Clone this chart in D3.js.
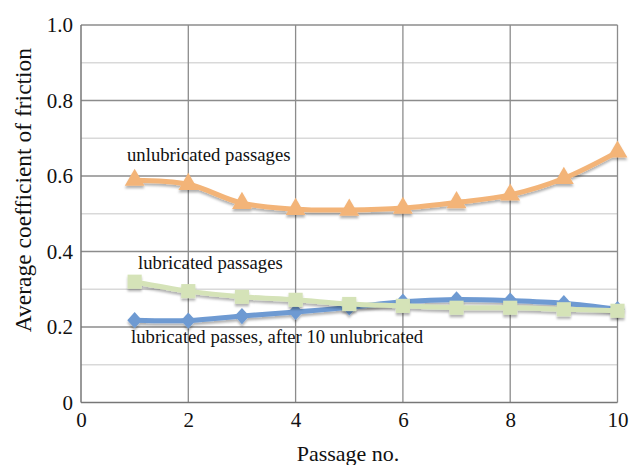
<!DOCTYPE html>
<html><head><meta charset="utf-8">
<script src="https://cdnjs.cloudflare.com/ajax/libs/d3/7.8.5/d3.min.js"></script>
<style>body{margin:0;background:#fff}svg{display:block}
svg text{font-family:"Liberation Serif","Times New Roman",Times,"DejaVu Serif",serif;}</style>
</head><body>
<svg id="c" width="630" height="465"></svg>
<script>
const passages = [1,2,3,4,5,6,7,8,9,10];
const unlubricated = [0.589,0.578,0.528,0.512,0.510,0.515,0.530,0.550,0.594,0.664];
const lubricated = [0.320,0.295,0.280,0.272,0.261,0.256,0.251,0.251,0.247,0.243];
const lubricatedAfter = [0.218,0.217,0.229,0.240,0.252,0.267,0.273,0.270,0.263,0.247];
const xTicks = [0,2,4,6,8,10];
const yTicks = [0,0.2,0.4,0.6,0.8,1.0];
const yMinor = [0.1,0.3,0.5,0.7,0.9];
const yTickLabels = ["0","0.2","0.4","0.6","0.8","1.0"];

const svg = d3.select("#c");
const m = {l:81, r:617.5, t:25, b:402.5};
const x = d3.scaleLinear().domain([0,10]).range([m.l, m.r]);
const y = d3.scaleLinear().domain([0,1]).range([m.b, m.t]);

const defs = svg.append("defs");
const f = defs.append("filter").attr("id","sh").attr("x","-30%").attr("y","-30%").attr("width","160%").attr("height","180%");
f.append("feDropShadow").attr("dx",0).attr("dy",2.5).attr("stdDeviation",1.3).attr("flood-color","#000").attr("flood-opacity",0.3);

// minor gridlines
svg.append("g").selectAll("line").data(yMinor).join("line")
  .attr("x1",m.l).attr("x2",m.r).attr("y1",d=>y(d)).attr("y2",d=>y(d))
  .attr("stroke","#d9d9d9").attr("stroke-width",1.3);
// major horizontal
svg.append("g").selectAll("line").data(yTicks.slice(1)).join("line")
  .attr("x1",m.l).attr("x2",m.r).attr("y1",d=>y(d)).attr("y2",d=>y(d))
  .attr("stroke","#8c8c8c").attr("stroke-width",1.3);
// vertical
svg.append("g").selectAll("line").data(xTicks.slice(1)).join("line")
  .attr("x1",d=>x(d)).attr("x2",d=>x(d)).attr("y1",m.t).attr("y2",m.b)
  .attr("stroke","#8c8c8c").attr("stroke-width",1.3);
// axes lines
svg.append("line").attr("x1",m.l).attr("x2",m.l).attr("y1",m.t).attr("y2",m.b).attr("stroke","#777").attr("stroke-width",1.5);
svg.append("line").attr("x1",m.l).attr("x2",m.r).attr("y1",m.b).attr("y2",m.b).attr("stroke","#777").attr("stroke-width",1.5);

// tick labels via axes
const yAxis = svg.append("g").attr("transform",`translate(${m.l},0)`)
  .call(d3.axisLeft(y).tickValues(yTicks).tickFormat((d,i)=>yTickLabels[i]).tickSize(0).tickPadding(8));
const xAxis = svg.append("g").attr("transform",`translate(0,${m.b})`)
  .call(d3.axisBottom(x).tickValues(xTicks).tickSize(0).tickPadding(10));
[yAxis,xAxis].forEach(a=>{a.select(".domain").remove();a.attr("font-family",null);a.selectAll("text").attr("font-size",21).attr("fill","#111");});

// series
const series = [
  {vals:lubricatedAfter, color:"#6e9ad2", shape:d3.symbolDiamond, size:120},
  {vals:lubricated, color:"#d5e3b8", shape:d3.symbolSquare, size:200},
  {vals:unlubricated, color:"#f3b478", shape:d3.symbolTriangle, size:170},
];
const line = d3.line().x((d,i)=>x(passages[i])).y(d=>y(d)).curve(d3.curveCatmullRom.alpha(0.5));
series.forEach(s=>{
  const g = svg.append("g").attr("filter","url(#sh)");
  g.append("path").datum(s.vals).attr("d",line).attr("fill","none").attr("stroke",s.color).attr("stroke-width",5).attr("stroke-linecap","round");
  g.selectAll("path.m").data(s.vals).join("path").attr("class","m")
    .attr("transform",(d,i)=>`translate(${x(passages[i])},${y(d)})${s.shape===d3.symbolDiamond?" scale(1.25,0.8)":""}`)
    .attr("d",d3.symbol().type(s.shape).size(s.size)).attr("fill",s.color);
});

// annotations
const ann = [
  {t:"unlubricated passages", x:127, y:161},
  {t:"lubricated passages", x:138, y:269},
  {t:"lubricated passes, after 10 unlubricated", x:131, y:343},
];
svg.append("g").selectAll("text").data(ann).join("text")
  .attr("x",d=>d.x).attr("y",d=>d.y).text(d=>d.t)
  .attr("font-size",18.7).attr("fill","#111");

// axis titles
svg.append("text").attr("x",348).attr("y",461).attr("text-anchor","middle")
  .attr("font-size",22).attr("fill","#111").text("Passage no.");
svg.append("text").attr("transform","translate(31,190) rotate(-90)").attr("text-anchor","middle")
  .attr("font-size",23.5).attr("fill","#111").text("Average coefficient of friction");
</script>
</body></html>
